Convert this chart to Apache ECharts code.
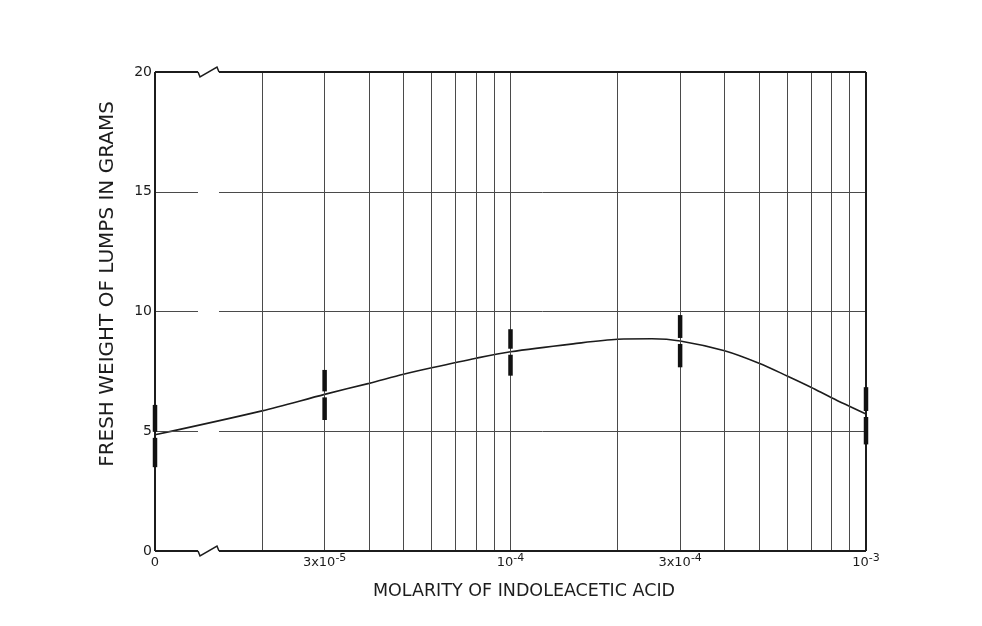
<!DOCTYPE html>
<html>
<head>
<meta charset="utf-8">
<script src="https://cdn.jsdelivr.net/npm/echarts@6/dist/echarts.min.js"></script>
<style>
  html, body { margin: 0; padding: 0; background: #fff; }
  #chart { width: 982px; height: 626px; }
</style>
</head>
<body>
<div id="chart"></div>
<script>
(function (window, echarts) {
    "use strict";

    // measured points (0 = control, drawn behind the axis break)
    var moles = [0, 3e-5, 1e-4, 3e-4, 1e-3];
    var meanWeight = [4.85, 6.54, 8.32, 8.77, 5.72];
    var barHigh = [6.1, 7.56, 9.26, 9.85, 6.84];
    var barLow = [3.5, 5.47, 7.32, 7.67, 4.45];

    // hand drawn curve
    var curveMoles = [0, 2e-5, 3e-5, 4e-5, 5e-5, 6e-5, 8e-5, 1e-4, 1.5e-4, 2e-4, 2.5e-4, 3e-4, 4e-4, 5e-4, 6e-4, 7e-4, 8e-4, 1e-3];
    var curveWeight = [4.85, 5.85, 6.54, 7.0, 7.38, 7.65, 8.05, 8.32, 8.65, 8.84, 8.86, 8.77, 8.36, 7.84, 7.31, 6.84, 6.4, 5.72];

    // axis labels
    var tickMoles = [0, 3e-5, 1e-4, 3e-4, 1e-3];
    var tickText = ['0', '3x10{s|-5}', '10{s|-4}', '3x10{s|-4}', '10{s|-3}'];
    var weightTicks = [0, 5, 10, 15, 20];
    var mantissas = [2, 3, 4, 5, 6, 7, 8, 9];
    var decades = [1e-5, 1e-4];

    var X0 = -5, X1 = -3;                 // log10 range, "0" sits at 10^-5
    var BREAK_L = -4.879, BREAK_R = -4.82; // gap of the broken axis
    var FONT = 'DejaVu Sans';
    var INK = '#1c1c1c';

    var pos = function (m) {
        return m === 0 ? X0 : Math.log10(m);
    };

    // grid lines of the log paper
    var gridMoles = [];
    decades.forEach(function (d) {
        mantissas.forEach(function (k) { gridMoles.push(k * d); });
        if (d < 1e-4) { gridMoles.push(1e-4); }
    });

    var lines = [];
    gridMoles.forEach(function (m) {
        lines.push([
            { coord: [pos(m), 0], lineStyle: { color: '#4a4a4a', width: 1, type: 'solid' } },
            { coord: [pos(m), 20] }
        ]);
    });
    weightTicks.forEach(function (w) {
        var edge = (w === 0 || w === 20);
        var st = { color: edge ? INK : '#4a4a4a', width: edge ? 2 : 1, type: 'solid' };
        lines.push([{ coord: [X0, w], lineStyle: st }, { coord: [BREAK_L, w] }]);
        lines.push([{ coord: [BREAK_R, w], lineStyle: st }, { coord: [X1, w] }]);
    });
    [X0, X1].forEach(function (x) {
        lines.push([
            { coord: [x, 0], lineStyle: { color: INK, width: 2, type: 'solid' } },
            { coord: [x, 20] }
        ]);
    });

    var chart = echarts.init(document.getElementById('chart'));

    var option = {
        backgroundColor: '#fff',
        animation: false,
        grid: { left: 155, right: 116, top: 72, bottom: 75 },
        xAxis: {
            type: 'value',
            min: X0,
            max: X1,
            axisLine: { show: false },
            axisTick: { show: false },
            splitLine: { show: false },
            axisLabel: {
                customValues: tickMoles.map(pos),
                margin: 2,
                fontFamily: FONT,
                fontSize: 13,
                lineHeight: 20,
                color: INK,
                formatter: function (v) {
                    for (var i = 0; i < tickMoles.length; i++) {
                        if (Math.abs(pos(tickMoles[i]) - v) < 1e-6) return tickText[i];
                    }
                    return '';
                },
                rich: {
                    s: { fontFamily: FONT, fontSize: 11, lineHeight: 10, verticalAlign: 'top', color: INK }
                }
            }
        },
        yAxis: {
            type: 'value',
            min: 0,
            max: 20,
            interval: 5,
            axisLine: { show: false },
            axisTick: { show: false },
            splitLine: { show: false },
            axisLabel: { margin: 3, fontFamily: FONT, fontSize: 14, color: INK }
        },
        series: [
            {
                name: 'curve',
                type: 'line',
                smooth: 0.3,
                showSymbol: false,
                silent: true,
                lineStyle: { color: INK, width: 1.6 },
                data: curveMoles.map(function (m, i) { return [pos(m), curveWeight[i]]; }),
                markLine: {
                    silent: true,
                    symbol: ['none', 'none'],
                    label: { show: false },
                    emphasis: { disabled: true },
                    data: lines
                },
                z: 3
            },
            {
                name: 'range',
                type: 'custom',
                silent: true,
                renderItem: function (params, api) {
                    var x = api.value(0);
                    var top = api.coord([x, api.value(3)]);
                    var mid = api.coord([x, api.value(1)]);
                    var bot = api.coord([x, api.value(2)]);
                    var w = 4.5, gap = 3;
                    return {
                        type: 'group',
                        children: [
                            { type: 'rect', shape: { x: top[0] - w / 2, y: top[1], width: w, height: mid[1] - gap - top[1] }, style: { fill: '#111' } },
                            { type: 'rect', shape: { x: top[0] - w / 2, y: mid[1] + gap, width: w, height: bot[1] - mid[1] - gap }, style: { fill: '#111' } }
                        ]
                    };
                },
                data: moles.map(function (m, i) { return [pos(m), meanWeight[i], barLow[i], barHigh[i]]; }),
                z: 5
            }
        ]
    };
    chart.setOption(option);

    // zig-zag marks where the x axis is broken
    var breaks = [0, 20].map(function (w) {
        var l = chart.convertToPixel({ gridIndex: 0 }, [BREAK_L, w]);
        var r = chart.convertToPixel({ gridIndex: 0 }, [BREAK_R, w]);
        return {
            type: 'polyline',
            silent: true,
            shape: { points: [[l[0], l[1]], [l[0] + 2, l[1] + 5], [r[0] - 2, r[1] - 5], [r[0], r[1]]] },
            style: { stroke: INK, lineWidth: 1.5, fill: null }
        };
    });

    chart.setOption({
        graphic: breaks.concat([
            {
                type: 'text',
                x: 108,
                y: 284,
                rotation: Math.PI / 2,
                style: { text: 'FRESH WEIGHT OF LUMPS IN GRAMS', fontFamily: FONT, fontSize: 20, fill: INK, align: 'center', verticalAlign: 'middle' }
            },
            {
                type: 'text',
                x: 524,
                y: 591,
                style: { text: 'MOLARITY OF INDOLEACETIC ACID', fontFamily: FONT, fontSize: 17.5, fill: INK, align: 'center', verticalAlign: 'middle' }
            }
        ])
    });

})(window, echarts);
</script>
</body>
</html>
